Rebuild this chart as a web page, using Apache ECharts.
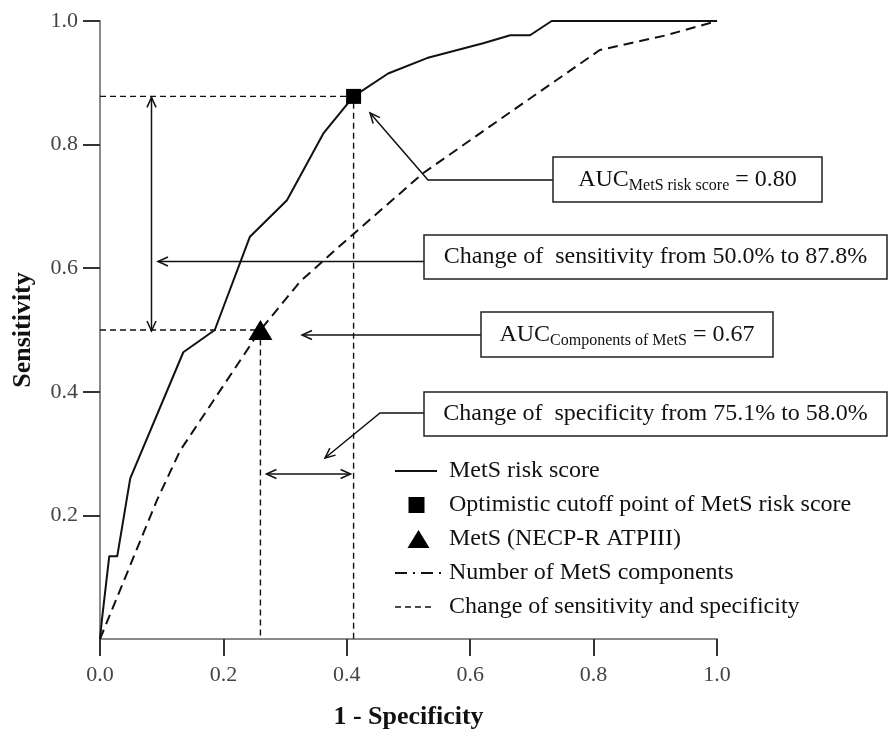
<!DOCTYPE html>
<html><head><meta charset="utf-8">
<script src="https://cdn.jsdelivr.net/npm/echarts@6/dist/echarts.min.js"></script>
<style>html,body{margin:0;padding:0;background:#fff}#c{width:889px;height:729px}</style>
</head><body><div id="c"></div>
<script>
// ---- data ----
const riskFPR = [0, 0.003, 0.015, 0.028, 0.049, 0.135, 0.186, 0.243, 0.303, 0.362, 0.411, 0.467, 0.530, 0.621, 0.665, 0.697, 0.732, 1.0];
const riskTPR = [0, 0.030, 0.134, 0.134, 0.260, 0.464, 0.500, 0.651, 0.710, 0.818, 0.878, 0.915, 0.940, 0.964, 0.977, 0.977, 1.0, 1.0];
const compFPR = [0, 0.092, 0.130, 0.184, 0.260, 0.324, 0.384, 0.524, 0.670, 0.810, 0.918, 1.0];
const compTPR = [0, 0.224, 0.305, 0.386, 0.500, 0.578, 0.632, 0.754, 0.856, 0.953, 0.977, 1.0];
const cutoffPoint = [0.411, 0.878];
const metsPoint = [0.26, 0.5];
const xTickValues = [0, 0.2, 0.4, 0.6, 0.8, 1.0];
const yTickValues = [0.2, 0.4, 0.6, 0.8, 1.0];
const legendNames = ['MetS risk score', 'Optimistic cutoff point of MetS risk score', 'MetS (NECP-R ATPIII)', 'Number of MetS components', 'Change of sensitivity and specificity'];

const FONT = '"Liberation Serif", "Times New Roman", serif';
const chart = echarts.init(document.getElementById('c'), null, {renderer: 'canvas'});
const pairs = (xs, ys) => xs.map((x, i) => [x, ys[i]]);

chart.setOption({
  animation: false,
  backgroundColor: '#fff',
  grid: {left: 100, right: 172, top: 21, bottom: 90, containLabel: false, outerBoundsMode: 'none'},
  xAxis: {
    type: 'value', min: 0, max: 1, interval: 0.2,
    axisLine: {onZero: false, lineStyle: {color: '#8a8a8a', width: 2}},
    axisTick: {length: 17, lineStyle: {color: '#333', width: 2}, customValues: xTickValues},
    axisLabel: {margin: 25, fontFamily: FONT, fontSize: 22, color: '#444', customValues: xTickValues, formatter: v => v.toFixed(1)},
    splitLine: {show: false},
    name: '1 - Specificity', nameLocation: 'middle', nameGap: 65,
    nameTextStyle: {fontFamily: FONT, fontSize: 26, fontWeight: 'bold', color: '#111'}
  },
  yAxis: {
    type: 'value', min: 0, max: 1, interval: 0.2,
    axisLine: {onZero: false, lineStyle: {color: '#8a8a8a', width: 2}},
    axisTick: {length: 17, lineStyle: {color: '#333', width: 2}, customValues: yTickValues},
    axisLabel: {margin: 22, fontFamily: FONT, fontSize: 22, color: '#444', customValues: yTickValues, formatter: v => v.toFixed(1)},
    splitLine: {show: false},
    name: 'Sensitivity', nameLocation: 'middle', nameGap: 64,
    nameTextStyle: {fontFamily: FONT, fontSize: 26, fontWeight: 'bold', color: '#111'}
  },
  series: [
    {name: legendNames[4], type: 'line', data: [[0, cutoffPoint[1]], cutoffPoint, [cutoffPoint[0], 0]],
      symbol: 'none', silent: true, z: 2, lineStyle: {color: '#111', width: 1.4, type: [6, 4]}},
    {name: legendNames[4], type: 'line', data: [[0, metsPoint[1]], metsPoint, [metsPoint[0], 0]],
      symbol: 'none', silent: true, z: 2, lineStyle: {color: '#111', width: 1.4, type: [6, 4]}},
    {name: legendNames[0], type: 'line', data: pairs(riskFPR, riskTPR), symbol: 'none', silent: true, z: 3,
      lineStyle: {color: '#111', width: 2}},
    {name: legendNames[3], type: 'line', data: pairs(compFPR, compTPR), symbol: 'none', silent: true, z: 3,
      lineStyle: {color: '#111', width: 2, type: [10, 6]}},
    {name: legendNames[1], type: 'scatter', data: [cutoffPoint], symbol: 'rect', symbolSize: 15, silent: true, z: 5,
      itemStyle: {color: '#000', opacity: 1}},
    {name: legendNames[2], type: 'scatter', data: [metsPoint], symbol: 'triangle', symbolSize: [24, 20], silent: true, z: 5,
      itemStyle: {color: '#000', opacity: 1}}
  ]
});

// ---- annotations (layout) ----
const P = (x, y) => chart.convertToPixel({gridIndex: 0}, [x, y]);
function head(tip, from, len, half) {
  len = len || 10; half = half || 4.5;
  const dx = tip[0] - from[0], dy = tip[1] - from[1], d = Math.hypot(dx, dy);
  const ux = dx / d, uy = dy / d, bx = tip[0] - ux * len, by = tip[1] - uy * len;
  return [[bx - uy * half, by + ux * half], tip, [bx + uy * half, by - ux * half]];
}
const LS = {stroke: '#111', lineWidth: 1.5, fill: null};
const g = [];
function poly(points, style) { g.push({type: 'polyline', silent: true, z: 10, shape: {points}, style: Object.assign({}, LS, style || {})}); }
function arrow(points, both) {
  poly(points);
  const n = points.length;
  poly(head(points[n - 1], points[n - 2]));
  if (both) poly(head(points[0], points[1]));
}
function box(x, y, w, h, text, rich) {
  g.push({type: 'rect', silent: true, z: 10, shape: {x, y, width: w, height: h}, style: {fill: '#fff', stroke: '#222', lineWidth: 1.5}});
  g.push({type: 'text', silent: true, z: 11, x: x + w / 2, y: y + h / 2,
    style: {text, rich, align: 'center', verticalAlign: 'middle', fontFamily: FONT, fontSize: 24, fill: '#111'}});
}
const rich = {m: {fontFamily: FONT, fontSize: 24, fill: '#111'}, s: {fontFamily: FONT, fontSize: 16, fill: '#111', padding: [12, 0, 0, 0]}};

// double arrows tied to the cutoff / MetS points
const pc = P(cutoffPoint[0], cutoffPoint[1]);
const pm = P(metsPoint[0], metsPoint[1]);
arrow([[151.5, pm[1] + 1], [151.5, pc[1] + 1]], true);
arrow([[pm[0] + 6, 474], [pc[0] - 3, 474]], true);

arrow([[553, 180], [428, 180], [370, 113]]);
arrow([[424, 261.5], [158, 261.5]]);
arrow([[481, 335], [302, 335]]);
arrow([[424, 413], [380, 413], [325, 458]]);

box(553, 157, 269, 45, '{m|AUC}{s|MetS risk score}{m| = 0.80}', rich);
box(424, 235, 463, 44, 'Change of  sensitivity from 50.0% to 87.8%');
box(481, 312, 292, 45, '{m|AUC}{s|Components of MetS}{m| = 0.67}', rich);
box(424, 392, 463, 44, 'Change of  specificity from 75.1% to 58.0%');

// legend
const rows = [471, 505, 539, 573, 607];
poly([[395, rows[0]], [437, rows[0]]], {lineWidth: 2});
g.push({type: 'rect', silent: true, z: 10, shape: {x: 408.5, y: rows[1] - 8, width: 16, height: 16}, style: {fill: '#000'}});
g.push({type: 'polygon', silent: true, z: 10, shape: {points: [[407.5, rows[2] + 9], [418.5, rows[2] - 9], [429.5, rows[2] + 9]]}, style: {fill: '#000'}});
poly([[395, rows[3]], [441, rows[3]]], {lineWidth: 2, lineDash: [12, 6, 2, 6]});
poly([[395, rows[4]], [433, rows[4]]], {lineWidth: 1.4, lineDash: [6, 4]});
legendNames.forEach((t, i) => g.push({type: 'text', silent: true, z: 11, x: 449, y: rows[i],
  style: {text: t, align: 'left', verticalAlign: 'middle', fontFamily: FONT, fontSize: 24, fill: '#111'}}));

chart.setOption({graphic: {elements: g}});
</script>
</body></html>
